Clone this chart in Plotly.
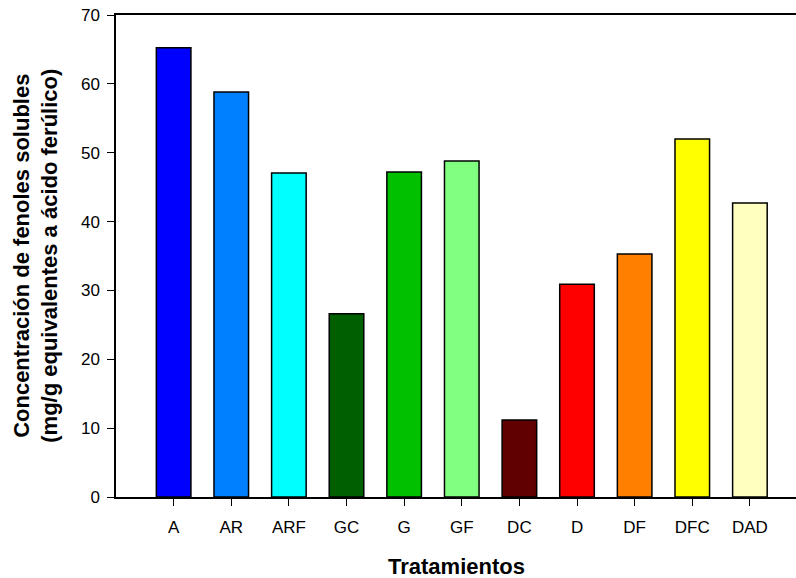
import plotly.graph_objects as go

# Tratamientos y concentración de fenoles solubles (mg/g eq. ácido ferúlico)
categories = ["A", "AR", "ARF", "GC", "G", "GF", "DC", "D", "DF", "DFC", "DAD"]
values = [65.25, 58.8, 47.05, 26.6, 47.2, 48.8, 11.2, 30.9, 35.3, 52.0, 42.7]
colors = ["#0000FF", "#0080FF", "#00FFFF", "#005F00", "#00C000", "#80FF80",
          "#600000", "#FF0000", "#FF8000", "#FFFF00", "#FFFFC0"]
y_ticks = [0, 10, 20, 30, 40, 50, 60, 70]

positions = list(range(len(categories)))

fig = go.Figure(
    go.Bar(
        x=positions,
        y=values,
        width=0.6,
        marker=dict(color=colors, line=dict(color="#000000", width=1.5)),
        hoverinfo="x+y",
    )
)

font_family = "Liberation Sans, Arial, sans-serif"

fig.update_layout(
    width=796,
    height=578,
    margin=dict(l=116, r=0, t=15, b=81),
    plot_bgcolor="white",
    paper_bgcolor="white",
    showlegend=False,
    font=dict(family=font_family, size=17, color="black"),
    xaxis=dict(
        range=[-1.0, 10.8],
        tickvals=positions,
        ticktext=categories,
        showline=True,
        linecolor="black",
        linewidth=1.5,
        mirror=True,
        ticks="outside",
        ticklen=7,
        tickwidth=1,
        tickcolor="black",
        showgrid=False,
        zeroline=False,
        tickfont=dict(size=17),
        ticklabelstandoff=7,
    ),
    yaxis=dict(
        range=[0, 70],
        tickvals=y_ticks,
        showline=True,
        linecolor="black",
        linewidth=1.5,
        ticks="outside",
        ticklen=7,
        tickwidth=1,
        tickcolor="black",
        showgrid=False,
        zeroline=False,
        tickfont=dict(size=17),
        ticklabelstandoff=4,
    ),
    annotations=[
        dict(
            text="Concentración de fenoles solubles<br>(mg/g equivalentes a ácido ferúlico)",
            xref="paper", yref="paper",
            x=-0.118, y=0.5,
            xanchor="center", yanchor="middle",
            textangle=-90,
            showarrow=False,
            font=dict(size=22, family=font_family, weight="bold"),
        ),
        dict(
            text="Tratamientos",
            xref="paper", yref="paper",
            x=0.5, y=-0.145,
            xanchor="center", yanchor="middle",
            showarrow=False,
            font=dict(size=22, family=font_family, weight="bold"),
        ),
    ],
)

fig.write_html("out.html")
